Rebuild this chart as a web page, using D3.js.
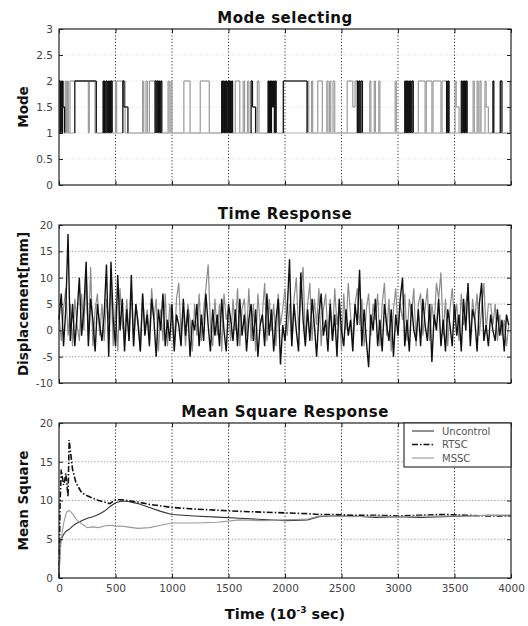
<!DOCTYPE html>
<html>
<head>
<meta charset="utf-8">
<script src="https://cdn.jsdelivr.net/npm/d3@7"></script>
<style>
  body { margin: 0; background: #fff; }
  svg text { font-family: "DejaVu Sans", Verdana, sans-serif; }
</style>
</head>
<body>
<svg id="fig" width="528" height="626"></svg>
<script>
// ---------- data ----------
const timeTicks = [0, 500, 1000, 1500, 2000, 2500, 3000, 3500, 4000];
const modeTicks = [0, 0.5, 1, 1.5, 2, 2.5, 3];
const dispTicks = [-10, -5, 0, 5, 10, 15, 20];
const msTicks = [0, 5, 10, 15, 20];

// mode switching events [time (ms), mode]
const modeDark = [
  [0,2],[8,1],[14,2],[20,1],[30,2],[36,1.5],[50,1],
  [140,2],[330,1],
  [390,2],[396,1],[402,2],[408,1],[416,2],[424,1],[432,2],[438,1],[448,2],[456,1],[462,2],[470,1],
  [565,2],[575,1.5],[610,1],
  [850,2],[858,1],[866,2],[874,1],[882,2],[890,1],[900,2],[910,1],
  [1440,2],[1446,1],[1452,2],[1458,1],[1466,2],[1472,1],[1480,2],[1486,1],
  [1494,2],[1500,1],[1506,2],[1512,1],[1518,2],[1524,1],[1530,2],[1536,1],
  [1700,2],[1712,1.5],[1740,1],
  [1850,2],[1856,1],[1864,2],[1872,1],[1880,2],[1888,1.5],[1898,2],[1906,1],[1914,2],[1922,1],
  [1985,2],[2195,1],
  [2640,2],[2648,1],[2656,2],[2664,1],[2672,2],[2685,1],
  [3060,2],[3066,1],[3072,2],[3078,1],[3084,2],[3090,1],[3096,2],[3102,1],[3110,2],[3116,1],[3124,2],[3135,1],
  [3430,2],[3436,1],[3445,2],[3452,1],
  [3560,2],[3566,1],[3574,2],[3580,1],[3588,2],[3596,1],[3604,2],[3612,1],
  [3840,2],[3848,1],[3905,2],[3920,1],[4000,1]
];
const modeLight = [
  [0,1],[20,2],[28,1.5],[45,1],[55,2],[65,1],[75,2],[82,1],
  [97,2],[260,1],[268,2],[319,1],
  [470,2],[500,1],[510,2],[585,1],
  [740,2],[750,1],[770,2],[782,1],[800,2],[880,1],
  [965,2],[975,1],[990,2],[1000,1],
  [1105,2],[1160,1],
  [1250,2],[1330,1],
  [1560,2],[1600,1],
  [1630,2],[1642,1],[1668,2],[1680,1],[1755,2],[1770,1],
  [2200,2],[2210,1],[2235,2],[2245,1],[2290,2],[2330,1],
  [2370,2],[2380,1],[2395,2],[2405,1],[2425,2],[2440,1],
  [2550,2],[2600,1.5],[2620,2],[2645,1],
  [2750,2],[2760,1],[2790,2],[2800,1],[2830,2],[2840,1],
  [2975,2],[2985,1],
  [3180,2],[3240,1],[3250,2],[3300,1],[3310,2],[3380,1],[3390,2],[3430,1],
  [3505,2],[3515,1.5],[3540,1],
  [3665,2],[3675,1],[3700,2],[3710,1],
  [3725,2],[3735,1],[3770,2],[3780,1.5],[3800,1],
  [3990,2],[4000,2]
];

// displacement samples every 20 ms
const dispStep = 20;
const dispDark = [
  2, 7, -3, 4, 18.3, -2, 5, -3, 3, 10,
  -1, 4, 13, -3, 6, 2, -4, 5, 1, -2,
  3, 12.5, -5, 13, 2, -3, 10.5, 0, 6, -4,
  4, -2, 10.5, -3, 5, 1, -4, 7, -1, 3,
  -3, 6, 2, -5, 4, 0, 7, -3, 2, -2,
  5, -4, 3, 1, -3, 6, -1, 4, -5, 2,
  0, 5, -3, 3, -2, 7, 1, -4, 4, -1,
  3, -3, 6, 0, -4, 5, 2, -2, 4, -3,
  6, -1, 3, -4, 2, 5, -2, 4, -5, 1,
  3, -3, 7, -1, 4, -4, 2, 6, -6.5, 1,
  -2, 4, 13.5, -3, 5, 0, -4, 11, 2, -3,
  4, -2, 6, 1, -5, 3, 7, -1, 2, -4,
  5, -2, 3, -5, 6, 0, -3, 4, -1, 2,
  -4, 5, 1, 11.5, -3, 4, -2, -7, 3, 0,
  6, -3, 2, -4, 5, 1, -2, 4, -5, 3,
  -1, 6, 10, -3, 2, -4, 5, 0, -2, 4,
  -3, 6, 1, -2, 5, -6, 3, 0, 6, -3,
  2, -4, 4, 1, -3, 5, -1, 3, -4, 6,
  0, 9, -3, 4, 2, -4, 5, 9, -2, 1,
  -3, 3, 0, -2, 4, -1, 2, -4, 3, 1
];
const dispLight = [
  3, -2, 4, 8, -1, 5, -3, 6, 1, -2,
  7, 0, 11, -2, 12, -3, 4, 7, -1, 5,
  -2, 6, 2, 9, -3, 5, -4, 8, 1, -1,
  6, -2, 8, -3, 5, 2, -4, 7, 0, 4,
  -1, 8, 2, 6, -4, 4, -2, 7, -3, 5,
  2, -3, 6, 9, -1, 4, -3, 5, 2, -4,
  5, -1, 7, -2, 4, 8, 12.5, 1, -3, 6,
  -1, 5, -4, 7, 2, 4, -2, 6, 0, 8,
  -3, 4, 6, -1, 8, -2, 5, -4, 7, 1,
  3, 9, -2, 6, 0, 5, -3, 7, 1, 4,
  8, -1, 5, -3, 6, 10, 0, 7, 12, -2,
  5, 9, -2, 6, 1, 8, -3, 4, 7, -1,
  6, -2, 8, 1, 5, -4, 7, 0, 9, 3,
  -2, 5, 8, 1, 6, -3, 4, 7, -1, 5,
  2, 7, -3, 5, 9, -1, 6, -4, 4, 8,
  0, 5, 2, 7, -2, 6, 3, 8, -3, 5,
  7, -1, 4, 8, -2, 5, 1, 9, 6, 11,
  -1, 6, -3, 4, 8, 2, 5, -2, 7, 1,
  5, 8, -2, 6, 2, 7, -1, 4, 9, 0,
  5, 5, 1, 5, -2, 3, -1, 2, -3, 1
];

// running mean square
const msTime = [0, 10, 20, 30, 40, 50, 60, 70, 80, 90, 100, 120, 150, 200, 250, 300, 350, 400, 450, 500,
  550, 600, 700, 800, 900, 1000, 1200, 1400, 1600, 1800, 2000, 2200, 2300, 2400, 2600, 2800, 3000, 3200, 3400, 3600, 3800, 4000];
const msUncontrol = [0, 4.5, 5.0, 5.3, 5.6, 5.8, 6.0, 6.1, 6.2, 6.3, 6.4, 6.7, 7.0, 7.4, 7.7, 7.9, 8.2, 8.6, 9.2, 9.7,
  9.9, 9.9, 9.6, 9.1, 8.6, 8.2, 8.0, 7.85, 7.7, 7.55, 7.4, 7.5, 7.9, 8.0, 8.0, 7.8, 7.9, 7.8, 7.9, 8.0, 8.1, 8.1];
const msRTSC = [0, 10, 14, 13, 12, 12.5, 13.5, 12, 10.5, 17.8, 16.5, 14, 12.3, 11, 10.6, 10.3, 10, 9.8, 9.6, 10.1,
  10.1, 10.0, 9.8, 9.5, 9.3, 9.1, 8.9, 8.75, 8.6, 8.5, 8.4, 8.3, 8.2, 8.2, 8.1, 8.1, 8.0, 8.1, 8.2, 8.1, 8.0, 8.0];
const msMSSC = [0, 3, 5, 6, 7, 7.6, 8.2, 8.5, 8.7, 8.7, 8.6, 8.3, 7.6, 7.0, 6.5, 6.6, 6.5, 6.7, 6.8, 6.7,
  6.7, 6.6, 6.4, 6.5, 6.8, 7.1, 7.1, 7.2, 7.5, 7.4, 7.5, 7.6, 8.0, 8.0, 7.9, 8.0, 7.9, 8.0, 8.0, 8.0, 8.1, 8.0];

// ---------- drawing ----------
const svg = d3.select("#fig");
const left = 59, right = 511;
const x = d3.scaleLinear().domain([0, 4000]).range([left, right]);
const plain = d => String(d);

function panel(top, bottom, yDomain, yTicks, title, ylabel, hGridColor) {
  const y = d3.scaleLinear().domain(yDomain).range([bottom, top]);
  const g = svg.append("g");
  g.append("g").selectAll("line").data(timeTicks.slice(1, -1)).join("line")
    .attr("x1", d => x(d)).attr("x2", d => x(d)).attr("y1", top).attr("y2", bottom)
    .attr("stroke", "#333").attr("stroke-width", 1).attr("stroke-dasharray", "1.2,2");
  g.append("g").selectAll("line").data(yTicks.slice(1, -1)).join("line")
    .attr("x1", left).attr("x2", right).attr("y1", d => y(d)).attr("y2", d => y(d))
    .attr("stroke", hGridColor).attr("stroke-width", 1).attr("stroke-dasharray", "1.2,2");
  svg.append("text").attr("x", (left + right) / 2).attr("y", top - 6)
    .attr("text-anchor", "middle").attr("font-size", 15).attr("font-weight", "bold")
    .attr("letter-spacing", 0.5).attr("fill", "#111").text(title);
  svg.append("text").attr("transform", `translate(28,${(top + bottom) / 2}) rotate(-90)`)
    .attr("text-anchor", "middle").attr("font-size", 13.5).attr("font-weight", "bold")
    .attr("fill", "#111").text(ylabel);
  return { g, y, top, bottom };
}

function frame(p, yTicks, showX) {
  const yl = d3.axisLeft(p.y).tickValues(yTicks).tickSize(-4).tickPadding(6).tickFormat(plain);
  const yr = d3.axisRight(p.y).tickValues(yTicks).tickSize(-4).tickFormat("");
  const axL = svg.append("g").attr("transform", `translate(${left},0)`).call(yl);
  const axR = svg.append("g").attr("transform", `translate(${right},0)`).call(yr);
  const xb = d3.axisBottom(x).tickValues(timeTicks).tickSize(-4).tickPadding(7).tickFormat(plain);
  const xt = d3.axisTop(x).tickValues(timeTicks).tickSize(-4).tickFormat("");
  const axB = svg.append("g").attr("transform", `translate(0,${p.bottom})`).call(xb);
  const axT = svg.append("g").attr("transform", `translate(0,${p.top})`).call(xt);
  if (!showX) axB.selectAll("text").remove();
  [axL, axR, axB, axT].forEach(a => {
    a.select(".domain").remove();
    a.selectAll("line").attr("stroke", "#222");
    a.selectAll("text").attr("font-family", "'Liberation Sans', Arial, sans-serif")
      .attr("font-size", 10.5).attr("fill", "#444");
  });
  svg.append("rect").attr("x", left).attr("y", p.top)
    .attr("width", right - left).attr("height", p.bottom - p.top)
    .attr("fill", "none").attr("stroke", "#222").attr("stroke-width", 1.2);
}

// Panel 1: mode selecting, drawn as step segments; flats at mode 1 are lighter
const p1 = panel(29, 185, [0, 3], modeTicks, "Mode selecting", "Mode", "#ddd");
function drawSteps(events, color, width) {
  const segs = [];
  for (let i = 0; i < events.length - 1; i++) {
    const [t0, m0] = events[i], [t1, m1] = events[i + 1];
    segs.push({ x1: t0, y1: m0, x2: t1, y2: m0, c: m0 > 1 ? color : "#b8b8b8" });
    if (m1 !== m0) segs.push({ x1: t1, y1: m0, x2: t1, y2: m1, c: color });
  }
  p1.g.append("g").selectAll("line").data(segs).join("line")
    .attr("x1", d => x(d.x1)).attr("x2", d => x(d.x2))
    .attr("y1", d => p1.y(d.y1)).attr("y2", d => p1.y(d.y2))
    .attr("stroke", d => d.c).attr("stroke-width", width);
}
drawSteps(modeLight, "#9a9a9a", 1.2);
drawSteps(modeDark, "#111", 1.3);
frame(p1, modeTicks, false);

// Panel 2: time response
const p2 = panel(225, 383, [-10, 20], dispTicks, "Time Response", "Displacement[mm]", "#999");
const dispLine = p => d3.line().x((d, i) => x(i * dispStep)).y(d => p.y(d));
p2.g.append("path").datum(dispLight).attr("d", dispLine(p2))
  .attr("fill", "none").attr("stroke", "#8c8c8c").attr("stroke-width", 1.2);
p2.g.append("path").datum(dispDark).attr("d", dispLine(p2))
  .attr("fill", "none").attr("stroke", "#111").attr("stroke-width", 1.4);
frame(p2, dispTicks, false);

// Panel 3: mean square response
const p3 = panel(423, 578, [0, 20], msTicks, "Mean Square Response", "Mean Square", "#999");
const msLine = d3.line().x((d, i) => x(msTime[i])).y(d => p3.y(d));
const msSeries = [
  { name: "Uncontrol", values: msUncontrol, color: "#333", width: 1.1, dash: null },
  { name: "RTSC", values: msRTSC, color: "#111", width: 1.6, dash: "6,2,1.5,2" },
  { name: "MSSC", values: msMSSC, color: "#999", width: 1.1, dash: null }
];
msSeries.forEach(s => {
  p3.g.append("path").datum(s.values).attr("d", msLine)
    .attr("fill", "none").attr("stroke", s.color).attr("stroke-width", s.width)
    .attr("stroke-dasharray", s.dash);
});
frame(p3, msTicks, true);

// legend
const lg = svg.append("g");
lg.append("rect").attr("x", 404).attr("y", 423).attr("width", 107).attr("height", 44)
  .attr("fill", "#fff").attr("stroke", "#222").attr("stroke-width", 1.1);
msSeries.forEach((s, i) => {
  const yy = 431 + i * 13.5;
  lg.append("line").attr("x1", 412).attr("x2", 434).attr("y1", yy).attr("y2", yy)
    .attr("stroke", s.color).attr("stroke-width", s.width).attr("stroke-dasharray", s.dash);
  lg.append("text").attr("x", 442).attr("y", yy + 3.5)
    .attr("font-family", "'Liberation Sans', Arial, sans-serif")
    .attr("font-size", 10).attr("fill", "#555").text(s.name);
});

// x-axis label
const xl = svg.append("text").attr("x", 285).attr("y", 619).attr("text-anchor", "middle")
  .attr("font-size", 14.5).attr("font-weight", "bold").attr("fill", "#111");
xl.append("tspan").text("Time (10");
xl.append("tspan").attr("dy", -6).attr("font-size", 9).text("-3");
xl.append("tspan").attr("dy", 6).text(" sec)");
</script>
</body>
</html>
